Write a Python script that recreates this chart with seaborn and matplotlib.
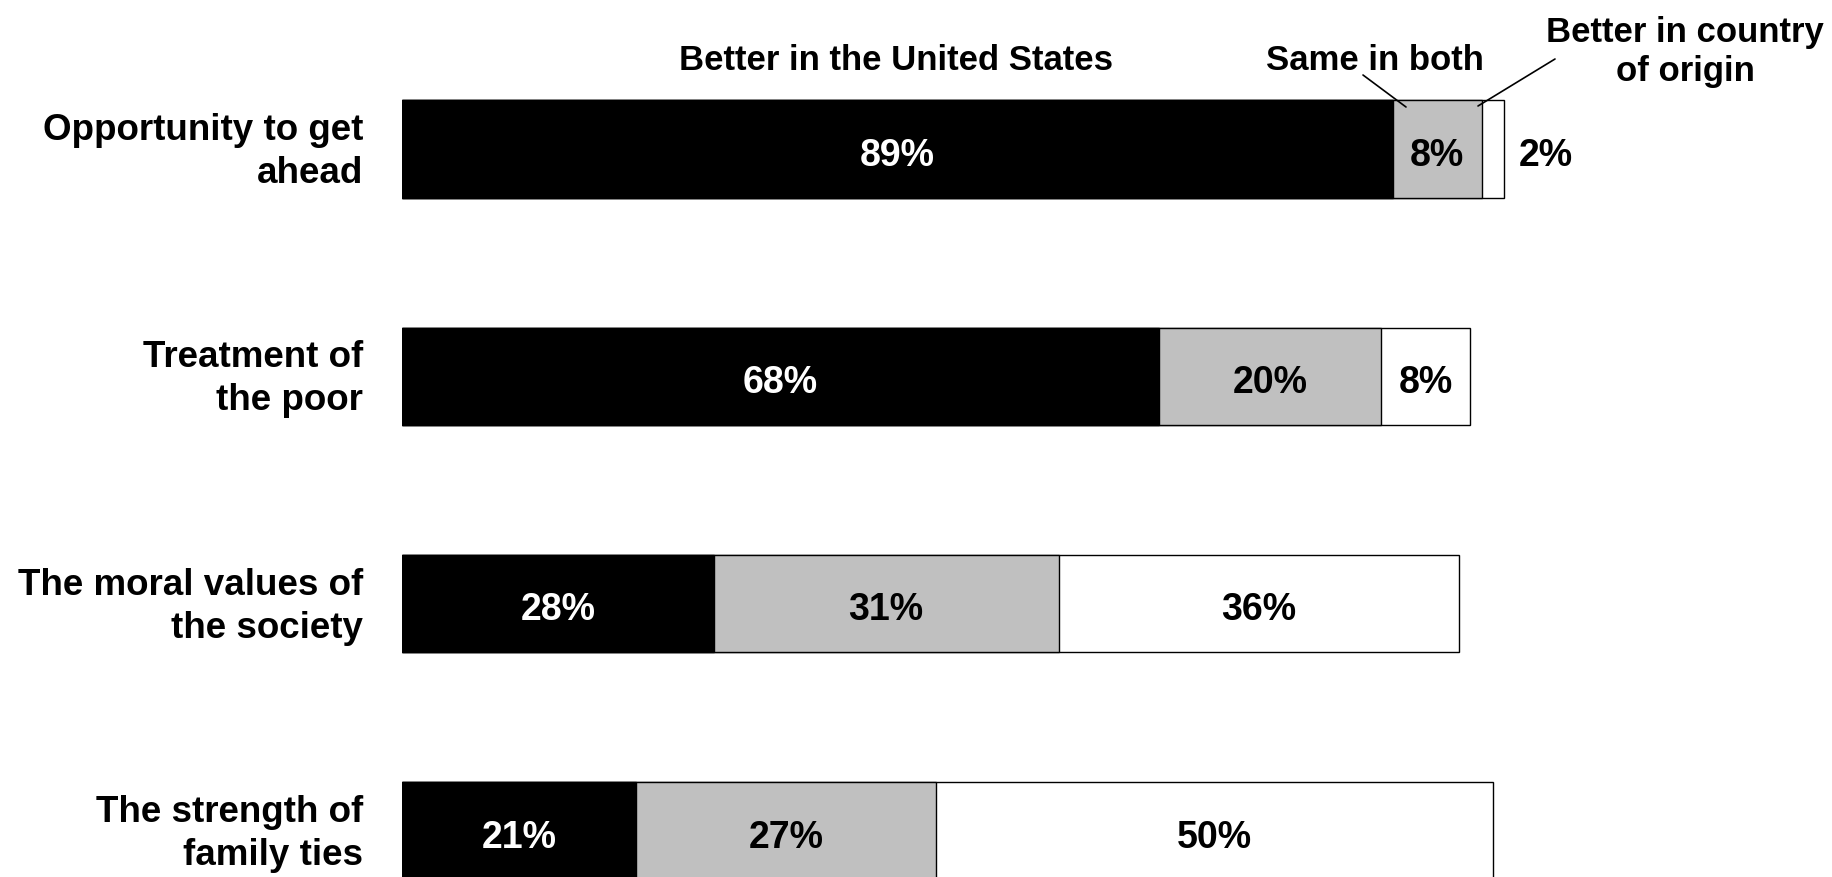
import matplotlib
matplotlib.use("Agg")
import matplotlib.pyplot as plt
import matplotlib.transforms as mtransforms
import seaborn as sns
import numpy as np
import pandas as pd

categories = ["Opportunity to get\nahead", "Treatment of\nthe poor",
              "The moral values of\nthe society", "The strength of\nfamily ties"]
better_us = [89, 68, 28, 21]
same_both = [8, 20, 31, 27]
better_origin = [2, 8, 36, 50]
series_names = ["Better in the United States", "Same in both", "Better in country\nof origin"]

sns.set_theme(style="white")
plt.rcParams["font.family"] = ["Liberation Sans", "DejaVu Sans"]
plt.rcParams["font.weight"] = "bold"
plt.rcParams["text.color"] = "black"

W, H, DPI = 1832, 878, 100
fig = plt.figure(figsize=(W / DPI, H / DPI), dpi=DPI)
fig.patch.set_facecolor("white")

x0_px = 402.0
px_per_unit = 11.13
ax_w_px = 100 * px_per_unit
ax = fig.add_axes([x0_px / W, 0.0, ax_w_px / W, 1.0])

df = pd.DataFrame({"cat": categories, "us": better_us, "same": same_both, "orig": better_origin})
df["c1"] = df["us"]
df["c2"] = df["us"] + df["same"]
df["c3"] = df["c2"] + df["orig"]

bw = 0.428
common = dict(y="cat", orient="h", ax=ax, width=bw, edgecolor="black", linewidth=1.0, order=categories)
sns.barplot(data=df, x="c3", color="white", **common)
sns.barplot(data=df, x="c2", color="#C0C0C0", **common)
sns.barplot(data=df, x="c1", color="black", **common)
for p in ax.patches:
    p.set_facecolor(p.get_facecolor()[:3] + (1.0,))

spacing = 227.3
top = -150.0 / spacing
bottom = (H - 150.0) / spacing
ax.set_ylim(bottom, top)
ax.set_xlim(0, 100)

fs_val = 27
fs_cat = 26.5
fs_head = 25
dy = 0.025
for i in range(len(categories)):
    segs = [(0, better_us[i], "white"),
            (better_us[i], same_both[i], "black"),
            (better_us[i] + same_both[i], better_origin[i], "black")]
    for left, val, col in segs:
        if val < 5:
            ax.text(left + val + 1.3, i + dy, f"{val}%", ha="left", va="center",
                    fontsize=fs_val, fontweight="bold", color="black", clip_on=False)
        else:
            ax.text(left + val / 2, i + dy, f"{val}%", ha="center", va="center",
                    fontsize=fs_val, fontweight="bold", color=col)

ax.set_xlabel("")
ax.set_ylabel("")
ax.set_xticks([])
ax.tick_params(axis="y", length=0, pad=28)
shift = mtransforms.ScaledTranslation(0, 6 / DPI, fig.dpi_scale_trans)
for lab in ax.get_yticklabels():
    lab.set_fontsize(fs_cat)
    lab.set_fontweight("bold")
    lab.set_color("black")
    lab.set_linespacing(1.3)
    lab.set_transform(lab.get_transform() + shift)
for s in ax.spines.values():
    s.set_visible(False)
ax.set_facecolor("none")

def fx(px):
    return px / W
def fy(py):
    return 1 - py / H

fig.text(fx(896), fy(60), series_names[0], ha="center", va="center", fontsize=fs_head, fontweight="bold")
fig.text(fx(1375), fy(60), series_names[1], ha="center", va="center", fontsize=fs_head, fontweight="bold")
fig.text(fx(1685), fy(52), series_names[2], ha="center", va="center", fontsize=fs_head, fontweight="bold",
         linespacing=1.25)

fig.add_artist(plt.Line2D([fx(1363), fx(1406)], [fy(76), fy(108)], color="black", lw=1.2))
fig.add_artist(plt.Line2D([fx(1555), fx(1478)], [fy(60), fy(107)], color="black", lw=1.2))

fig.savefig("out.png", dpi=DPI, facecolor="white")
